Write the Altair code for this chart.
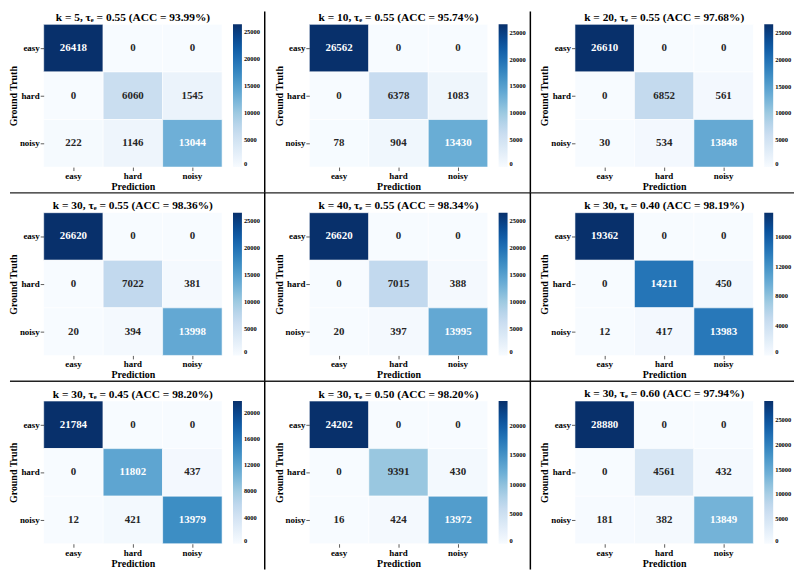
import altair as alt
import pandas as pd

FONT = "'Liberation Serif', 'Times New Roman', Times, serif"

classes = ["easy", "hard", "noisy"]

k_vals = [5, 10, 20, 30, 40, 30, 30, 30, 30]
tau_vals = ["0.55", "0.55", "0.55", "0.55", "0.55", "0.40", "0.45", "0.50", "0.60"]
acc_vals = ["93.99", "95.74", "97.68", "98.36", "98.34", "98.19", "98.20", "98.20", "97.94"]

cm_1 = [[26418, 0, 0], [0, 6060, 1545], [222, 1146, 13044]]
cm_2 = [[26562, 0, 0], [0, 6378, 1083], [78, 904, 13430]]
cm_3 = [[26610, 0, 0], [0, 6852, 561], [30, 534, 13848]]
cm_4 = [[26620, 0, 0], [0, 7022, 381], [20, 394, 13998]]
cm_5 = [[26620, 0, 0], [0, 7015, 388], [20, 397, 13995]]
cm_6 = [[19362, 0, 0], [0, 14211, 450], [12, 417, 13983]]
cm_7 = [[21784, 0, 0], [0, 11802, 437], [12, 421, 13979]]
cm_8 = [[24202, 0, 0], [0, 9391, 430], [16, 424, 13972]]
cm_9 = [[28880, 0, 0], [0, 4561, 432], [181, 382, 13849]]
matrices = [cm_1, cm_2, cm_3, cm_4, cm_5, cm_6, cm_7, cm_8, cm_9]

ticks_5k = [0, 5000, 10000, 15000, 20000, 25000]
cbar_ticks = [ticks_5k, ticks_5k, ticks_5k, ticks_5k, ticks_5k,
              [0, 4000, 8000, 12000, 16000],
              [0, 4000, 8000, 12000, 16000, 20000],
              [0, 5000, 10000, 15000, 20000],
              ticks_5k]

blues = ["#f7fbff", "#deebf7", "#c6dbef", "#9ecae1", "#6baed6",
         "#4292c6", "#2171b5", "#08519c", "#08306b"]

W, H = 180, 144
COL_GAP, ROW_GAP = 88, 46
PITCH_X, PITCH_Y = W + COL_GAP, H + ROW_GAP
SEP_X = 223
SEP_Y = 170
TITLE_OFFSET = 1


def make_panel(i):
    recs = []
    for r, t in enumerate(classes):
        for c, p in enumerate(classes):
            recs.append({"truth": t, "pred": p, "value": matrices[i][r][c]})
    df = pd.DataFrame(recs)
    row, col = divmod(i, 3)

    base = alt.Chart(df).transform_joinaggregate(vmax="max(value)")
    xenc = alt.X("pred:N", sort=classes,
                 scale=alt.Scale(paddingInner=0, paddingOuter=0),
                 axis=alt.Axis(title="Prediction", labelAngle=0))
    yenc = alt.Y("truth:N", sort=classes,
                 scale=alt.Scale(paddingInner=0, paddingOuter=0),
                 axis=alt.Axis(title="Ground Truth", labelAngle=0))

    rect = base.mark_rect(stroke="#ffffff", strokeWidth=0.6).encode(
        x=xenc, y=yenc,
        color=alt.Color("value:Q",
                        scale=alt.Scale(range=blues),
                        legend=alt.Legend(title=None, values=cbar_ticks[i],
                                          format="d")),
    )
    text = base.mark_text(font=FONT, fontWeight="bold", fontSize=11).encode(
        x=xenc, y=yenc,
        text=alt.Text("value:Q", format="d"),
        color=alt.condition("datum.value > 0.45 * datum.vmax",
                            alt.value("#ffffff"), alt.value("#262626")),
    )
    layers = [rect, text]
    one = alt.Chart(pd.DataFrame({"a": [0]}))
    dy = 0
    if col < 2:
        top = -13 if row == 0 else SEP_Y - PITCH_Y
        layers.append(one.mark_rule(color="black", strokeWidth=1.5).encode(
            x=alt.value(SEP_X), y=alt.value(top), y2=alt.value(SEP_Y)))
        dy = 0.75 - top
    if row < 2:
        x0 = -34 if col == 0 else SEP_X - PITCH_X
        x1 = SEP_X if col < 2 else 221
        layers.append(one.mark_rule(color="#222222", strokeWidth=1.5).encode(
            x=alt.value(x0), x2=alt.value(x1), y=alt.value(SEP_Y)))

    title = alt.TitleParams(
        f"k = {k_vals[i]}, τₑ = {tau_vals[i]} (ACC = {acc_vals[i]}%)",
        frame="group", dy=dy)
    return alt.layer(*layers).properties(width=W, height=H, title=title)


panels = [make_panel(i) for i in range(9)]

chart = alt.concat(*panels, columns=3,
                   spacing={"row": ROW_GAP, "column": COL_GAP},
                   bounds="flush").resolve_scale(
    color="independent"
).resolve_legend(
    color="independent"
).properties(
    padding={"left": 0, "top": 0, "right": 0, "bottom": 0},
    background="white",
).configure_view(stroke=None).configure_axis(
    labelFont=FONT, labelFontWeight="bold", labelFontSize=9, labelColor="black",
    titleFont=FONT, titleFontWeight="bold", titleFontSize=10, titleColor="black",
    tickSize=3.5, tickColor="#333333", tickWidth=0.8, domain=False, grid=False,
    labelPadding=1, titlePadding=1,
).configure_legend(
    gradientLength=H, gradientThickness=9, labelFontSize=6.5, labelFont=FONT,
    labelFontWeight="bold", labelColor="black", offset=11, labelOffset=4,
    padding=0,
).configure_title(
    font=FONT, fontSize=11.5, fontWeight="bold", offset=TITLE_OFFSET, color="black",
)

chart.save("out.html", embed_options={"renderer": "svg", "actions": False})
